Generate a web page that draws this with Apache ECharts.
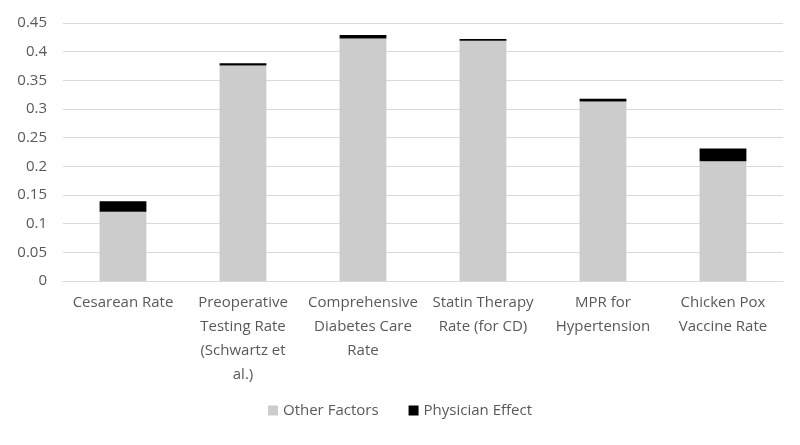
<!DOCTYPE html>
<html><head><meta charset="utf-8">
<script src="https://cdn.jsdelivr.net/npm/echarts@6/dist/echarts.min.js"></script>
<style>html,body{margin:0;padding:0;background:#fff}#c{width:800px;height:445px}</style>
</head><body><div id="c"></div>
<script>
const categories = ["Cesarean Rate", "Preoperative\nTesting Rate\n(Schwartz et\nal.)", "Comprehensive\nDiabetes Care\nRate", "Statin Therapy\nRate (for CD)", "MPR for\nHypertension", "Chicken Pox\nVaccine Rate"];
const otherFactors = [0.121, 0.376, 0.423, 0.419, 0.313, 0.209];
const physicianEffect = [0.018, 0.004, 0.006, 0.003, 0.005, 0.022];
const chart = echarts.init(document.getElementById('c'));
const font = 'Open Sans, Liberation Sans, sans-serif';
chart.setOption({
  animation: false,
  grid: {left: 63, right: 17, top: 23, bottom: 164},
  xAxis: {type: 'category', data: categories,
    axisLine: {lineStyle: {color: '#d9d9d9'}}, axisTick: {show: false},
    axisLabel: {color: '#595959', fontSize: 15, fontFamily: font, lineHeight: 24, margin: 10, interval: 0}},
  yAxis: {type: 'value', min: 0, max: 0.45, interval: 0.05,
    axisLine: {show: false}, axisTick: {show: false},
    splitLine: {lineStyle: {color: '#d9d9d9'}},
    axisLabel: {color: '#595959', fontSize: 15, fontFamily: font, margin: 16,
      formatter: v => String(Math.round(v*100)/100)}},
  legend: {bottom: 22, itemWidth: 10, itemHeight: 10, itemGap: 30, icon: 'rect',
    textStyle: {color: '#595959', fontSize: 15, fontFamily: font}},
  series: [
    {name: 'Other Factors', type: 'bar', stack: 's', data: otherFactors, barWidth: '39%', itemStyle: {color: '#cccccc'}},
    {name: 'Physician Effect', type: 'bar', stack: 's', data: physicianEffect, barWidth: '39%', itemStyle: {color: '#000000'}}
  ]
});
</script></body></html>
